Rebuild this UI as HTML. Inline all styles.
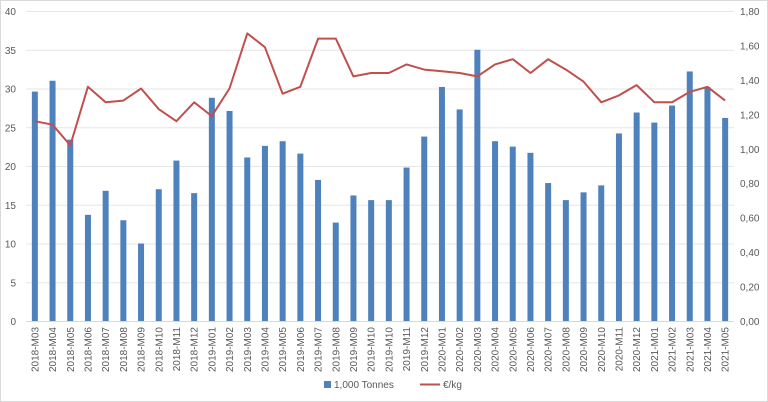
<!DOCTYPE html>
<html><head><meta charset="utf-8"><style>
body{margin:0;background:#fff}
svg{font-family:"Liberation Sans",sans-serif;display:block}
</style></head><body>
<svg id="c" width="768" height="402">
<rect x="0.5" y="0.5" width="767" height="401" fill="#fff" stroke="#d9d9d9"/>
<g id="grid"></g><g id="bars"></g><g id="line"></g><g id="axes"></g>
<g>
<rect x="324" y="381" width="7" height="7" fill="#4f81bd"/>
<text x="334" y="388" font-size="10" fill="#595959">1,000 Tonnes</text>
<line x1="420" y1="384.5" x2="440" y2="384.5" stroke="#c0504d" stroke-width="2"/>
<text x="443" y="388" font-size="10" fill="#595959">€/kg</text>
</g>
</svg>
<script>
const categories=["2018-M03","2018-M04","2018-M05","2018-M06","2018-M07","2018-M08","2018-M09","2018-M10","2018-M11","2018-M12","2019-M01","2019-M02","2019-M03","2019-M04","2019-M05","2019-M06","2019-M07","2019-M08","2019-M09","2019-M10","2019-M10","2019-M11","2019-M12","2020-M01","2020-M02","2020-M03","2020-M04","2020-M05","2020-M06","2020-M07","2020-M08","2020-M09","2020-M10","2020-M11","2020-M12","2021-M01","2021-M02","2021-M03","2021-M04","2021-M05"];
const tonnes=[29.6,31,23.4,13.7,16.8,13,10,17,20.7,16.5,28.8,27.1,21.1,22.6,23.2,21.6,18.2,12.7,16.2,15.6,15.6,19.8,23.8,30.2,27.3,35,23.2,22.5,21.7,17.8,15.6,16.6,17.5,24.2,26.9,25.6,27.8,32.2,30.2,26.2];
const price=[1.16,1.14,1.02,1.36,1.27,1.28,1.35,1.23,1.16,1.27,1.19,1.35,1.67,1.59,1.32,1.36,1.64,1.64,1.42,1.44,1.44,1.49,1.46,1.45,1.44,1.42,1.49,1.52,1.44,1.52,1.46,1.39,1.27,1.31,1.37,1.27,1.27,1.33,1.36,1.28];
const leftTicks=[0,5,10,15,20,25,30,35,40];
const rightTicks=["0,00","0,20","0,40","0,60","0,80","1,00","1,20","1,40","1,60","1,80"];
const NS="http://www.w3.org/2000/svg";
const X0=26,X1=734,Y0=321,Y1=11;
const step=(X1-X0)/categories.length;
const xc=i=>X0+step*(i+0.5);
const yL=v=>Y0-(v/40)*(Y0-Y1);
const yR=v=>Y0-(v/1.8)*(Y0-Y1);
function mk(t,a,p){const e=document.createElementNS(NS,t);for(const k in a)e.setAttribute(k,a[k]);document.getElementById(p).appendChild(e);return e;}
leftTicks.forEach((v,i)=>{
 const g=mk("line",{x1:X0,x2:X1,y1:yL(v)+0.5,y2:yL(v)+0.5,stroke:v===0?"#d9d9d9":"#e6e6e6"},"grid");
 
 
 const t=mk("text",{x:16,y:yL(v)+4,"font-size":"10",fill:"#595959","text-anchor":"end"},"axes");
 t.textContent=v;
 
 
});
rightTicks.forEach((s,i)=>{
 const v=i*0.2;
 const t=mk("text",{x:740,y:yR(v)+4,"font-size":"10",fill:"#595959"},"axes");
 t.textContent=s;
 
 
});
tonnes.forEach((v,i)=>{
 const b=mk("rect",{x:xc(i)-3,y:yL(v),width:6,height:Y0-yL(v),fill:"#4f81bd"},"bars");
 
 
});
const pts=price.map((v,i)=>xc(i).toFixed(1)+","+yR(v).toFixed(1)).join(" ");
const pl=mk("polyline",{points:pts,fill:"none",stroke:"#c0504d","stroke-width":"2","stroke-linejoin":"round"},"line");


categories.forEach((c,i)=>{
 const x=xc(i)+3.5,y=327;
 const t=mk("text",{x:x,y:y,"font-size":"10",fill:"#595959","text-anchor":"end",transform:`rotate(-90 ${x} ${y})`},"axes");
 t.textContent=c;
 
 
});
</script>
</body></html>
